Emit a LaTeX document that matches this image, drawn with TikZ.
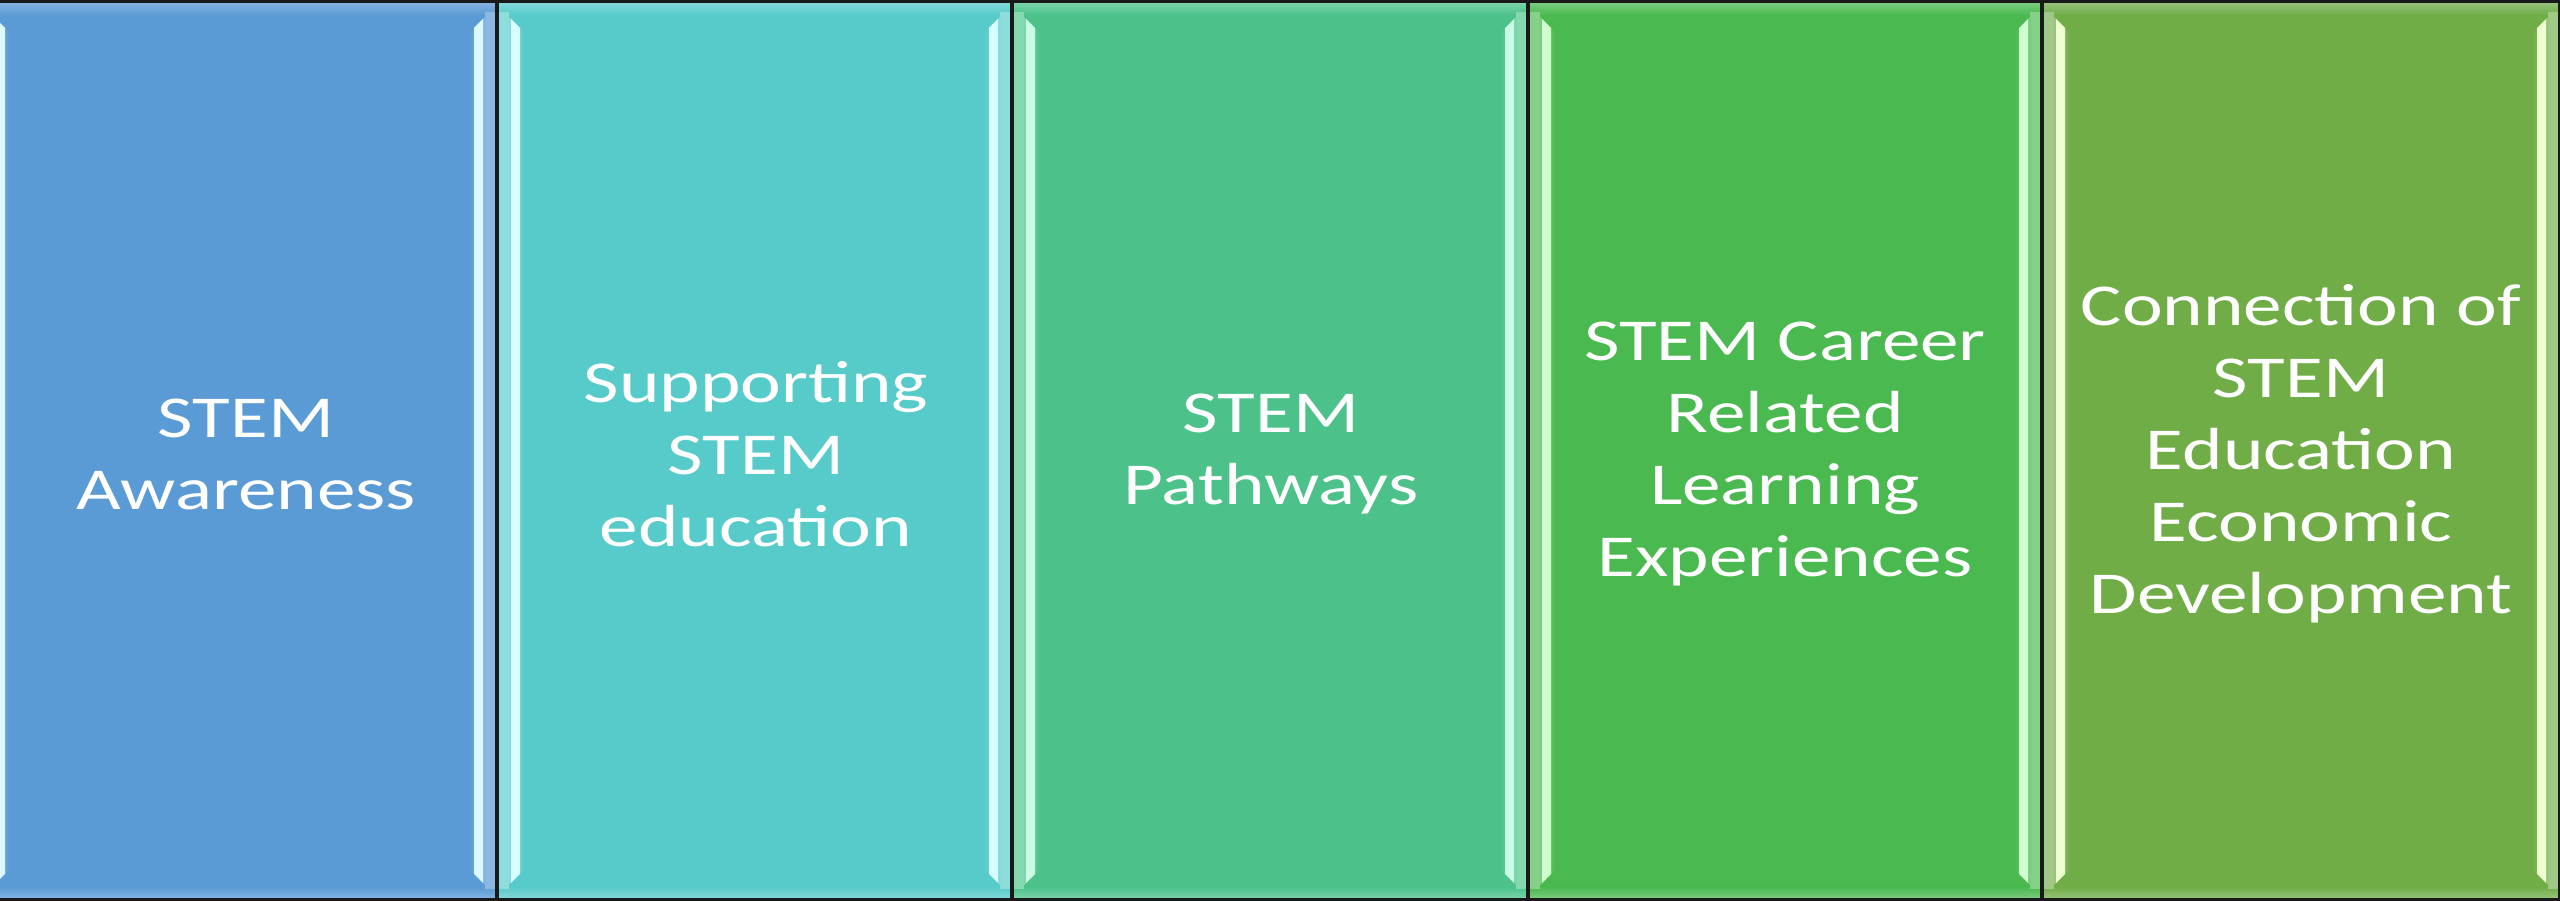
\documentclass[tikz,border=0pt]{standalone}
\usepackage{fontspec}
\setmainfont{Carlito}[FakeStretch=1.3]
\usepackage{tikz}

\definecolor{blueM}{HTML}{5B9BD5}
\definecolor{blueL}{HTML}{DDF8FF}
\definecolor{blueT}{HTML}{8DB8E3}
\definecolor{tealM}{HTML}{57CBC9}
\definecolor{tealL}{HTML}{D8FFFF}
\definecolor{tealT}{HTML}{8EDCDC}
\definecolor{jadeM}{HTML}{4CC28A}
\definecolor{jadeL}{HTML}{C8FCE4}
\definecolor{jadeT}{HTML}{85D8B0}
\definecolor{grassM}{HTML}{4AB950}
\definecolor{grassL}{HTML}{CFFFCF}
\definecolor{grassT}{HTML}{86D08A}
\definecolor{oliveM}{HTML}{70AD47}
\definecolor{oliveL}{HTML}{EEFFD0}
\definecolor{oliveT}{HTML}{A0C886}

\tikzset{
  paneltext/.style={text=white, align=center, inner sep=0pt,
    font=\fontsize{16.9}{20.5}\selectfont},
  edge/.style={draw=black!90, line width=1.1pt}
}

\begin{document}
\begin{tikzpicture}
  \useasboundingbox (0,0) rectangle (25.6,9.01);
  \clip (0,0) rectangle (25.6,9.01);
  % panels with bevelled frame
  \foreach \xa/\xb/\col in {-0.18/4.97/blue,4.97/10.12/teal,10.12/15.28/jade,15.28/20.42/grass,20.42/25.6/olive}
  {
    \fill[\col M] (\xa,0) rectangle (\xb,9.01);
    \shade[top color=\col T, bottom color=\col M] (\xa,8.86) rectangle (\xb,9.01);
    \shade[bottom color=\col T, top color=\col M] (\xa,0) rectangle (\xb,0.14);
    \fill[\col T] (\xa,0.12) rectangle (\xa+0.12,8.89);
    \fill[\col T] (\xb-0.12,0.12) rectangle (\xb,8.89);
    \shade[left color=\col T, middle color=\col L, right color=\col M]
      (\xa+0.1,8.86) -- (\xa+0.28,8.68) -- (\xa+0.28,0.32) -- (\xa+0.1,0.14) -- cycle;
    \shade[left color=\col M, middle color=\col L, right color=\col T]
      (\xb-0.1,8.86) -- (\xb-0.28,8.68) -- (\xb-0.28,0.32) -- (\xb-0.1,0.14) -- cycle;
    \fill[\col L] (\xa+0.14,8.82) -- (\xa+0.23,8.73) -- (\xa+0.23,0.27) -- (\xa+0.14,0.18) -- cycle;
    \fill[\col L] (\xb-0.14,8.82) -- (\xb-0.23,8.73) -- (\xb-0.23,0.27) -- (\xb-0.14,0.18) -- cycle;
    \draw[edge] (\xa,0) rectangle (\xb,9.01);
  }
  \draw[edge] (0,9.0) -- (25.6,9.0);
  \draw[edge] (0,0.01) -- (25.6,0.01);

  \node[paneltext] (aware)   at (2.46,4.47)  {STEM\\Awareness};
  \node[paneltext] (support) at (7.56,4.47)  {Supporting\\STEM\\education};
  \node[paneltext] (path)    at (12.71,4.47) {STEM\\Pathways};
  \node[paneltext] (career)  at (17.85,4.47) {STEM Career\\Related\\Learning\\Experiences};
  \node[paneltext] (econ)    at (23.01,4.47) {Connection of\\STEM\\Education\\Economic\\Development};
\end{tikzpicture}
\end{document}
